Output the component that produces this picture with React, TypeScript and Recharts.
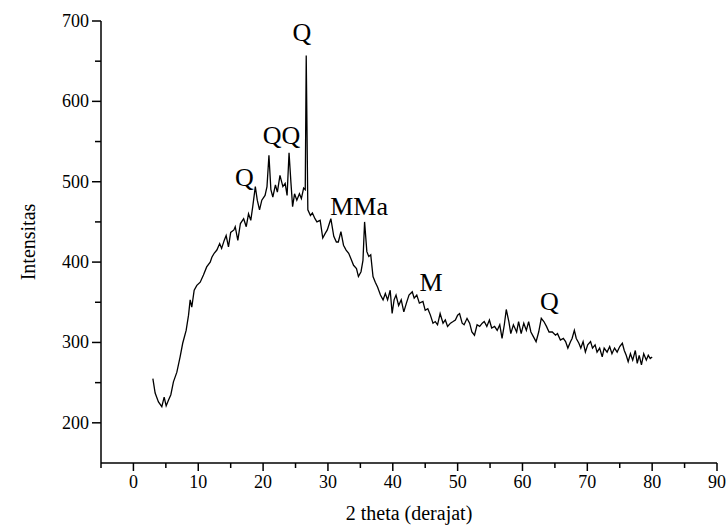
import React from "react";
import { LineChart, Line, XAxis, YAxis, ReferenceDot, Label } from "recharts";

// XRD pattern
const twoTheta = [
  3.0, 3.35, 3.86, 4.38, 4.74, 5.05, 5.4, 5.77, 6.17, 6.7, 7.2, 7.6, 8.13, 8.5, 8.75, 9.0, 9.37, 9.78,
  10.3, 10.8, 11.3, 11.84, 12.1, 12.45, 12.87, 13.3, 13.6, 14.0, 14.3, 14.66, 15.0, 15.5, 15.7, 16.1,
  16.5, 17.0, 17.4, 17.75, 18.1, 18.4, 18.8, 19.1, 19.45, 19.8, 20.3, 20.6, 20.9, 21.2, 21.5, 21.9,
  22.2, 22.6, 23.05, 23.4, 23.7, 24.0, 24.3, 24.55, 24.85, 25.2, 25.6, 25.9, 26.25, 26.5, 26.65, 26.9,
  27.3, 27.6, 28.0, 28.3, 28.8, 29.2, 29.6, 29.9, 30.45, 30.9, 31.3, 31.6, 32.0, 32.4, 32.8, 33.2,
  33.5, 33.95, 34.4, 34.7, 35.1, 35.4, 35.65, 36.0, 36.3, 36.6, 36.95, 37.3, 37.65, 38.1, 38.5, 38.85,
  39.2, 39.6, 39.9, 40.2, 40.5, 40.9, 41.3, 41.7, 42.1, 42.5, 43.0, 43.3, 43.7, 44.1, 44.65, 45.0,
  45.4, 45.8, 46.2, 46.55, 46.9, 47.3, 47.75, 48.1, 48.45, 48.9, 49.3, 49.65, 50.0, 50.3, 50.7, 51.0,
  51.45, 51.85, 52.2, 52.6, 53.0, 53.4, 53.8, 54.1, 54.5, 54.9, 55.25, 55.7, 56.1, 56.5, 56.85, 57.2,
  57.5, 57.9, 58.2, 58.6, 59.1, 59.4, 59.8, 60.2, 60.6, 60.95, 61.3, 61.7, 62.1, 62.5, 62.9, 63.3,
  63.7, 64.1, 64.6, 65.1, 65.4, 65.85, 66.3, 66.65, 67.0, 67.4, 67.65, 68.0, 68.3, 68.7, 69.0, 69.35,
  69.7, 70.06, 70.5, 70.8, 71.2, 71.5, 71.9, 72.3, 72.6, 73.05, 73.45, 73.8, 74.2, 74.6, 75.0, 75.4,
  75.7, 76.0, 76.3, 76.65, 77.0, 77.4, 77.7, 78.0, 78.35, 78.7, 79.1, 79.4, 79.7, 80.0,
];

const intensity = [
  255, 237, 226, 220, 232, 221, 228, 235, 251, 263, 282, 299, 315, 334, 353, 344, 365, 371,
  375, 384, 394, 400, 406, 411, 415, 423, 417, 427, 433, 419, 437, 440, 444, 427,
  448, 454, 444, 460, 452, 469, 494, 477, 465, 477, 483, 494, 533, 490, 481, 496,
  487, 508, 494, 498, 483, 536, 498, 469, 485, 477, 485, 479, 492, 490, 657, 465,
  458, 461, 454, 450, 452, 430, 436, 440, 454, 432, 425, 425, 438, 421, 415, 411,
  405, 396, 392, 382, 388, 402, 450, 413, 407, 409, 382, 375, 369, 359, 353, 361,
  353, 365, 336, 353, 359, 346, 353, 338, 349, 359, 363, 355, 359, 349, 351, 340,
  342, 334, 324, 326, 322, 336, 324, 328, 320, 324, 326, 328, 334, 336, 324, 322,
  330, 324, 313, 309, 322, 320, 324, 326, 320, 328, 318, 320, 315, 322, 305, 322,
  341, 326, 311, 322, 313, 326, 311, 324, 315, 326, 313, 307, 301, 313, 330, 326,
  320, 313, 313, 309, 311, 303, 305, 301, 293, 301, 305, 315, 305, 299, 293, 301,
  288, 297, 301, 293, 297, 288, 293, 282, 293, 288, 295, 286, 293, 288, 295, 299,
  290, 284, 276, 286, 278, 290, 274, 284, 272, 286, 278, 284, 280, 282,
];

const xTicks = [-5, 0, 5, 10, 15, 20, 25, 30, 35, 40, 45, 50, 55, 60, 65, 70, 75, 80, 85, 90];
const yTicks = [200, 250, 300, 350, 400, 450, 500, 550, 600, 650, 700];

// phase labels
const peakNames = ["Q", "QQ", "Q", "MMa", "M", "Q"];
const peakX = [26.0, 22.85, 17.1, 34.8, 45.9, 64.15];
const peakY = [686, 558, 506, 470, 375, 352];

const font = "'Liberation Serif', 'Times New Roman', serif";

const data = twoTheta.map((t, i) => ({ t, v: intensity[i] }));

function XTick({ x, y, payload }: any) {
  const major = payload.value % 10 === 0;
  return (
    <g>
      <line x1={x} y1={y} x2={x} y2={y + (major ? 8 : 5)} stroke="#000" strokeWidth={1.5} />
      {major && (
        <text x={x} y={y + 25} textAnchor="middle" fontSize={18} fontFamily={font} fill="#000">
          {payload.value}
        </text>
      )}
    </g>
  );
}

function YTick({ x, y, payload }: any) {
  const major = payload.value % 100 === 0;
  return (
    <g>
      <line x1={x - (major ? 9 : 6)} y1={y} x2={x} y2={y} stroke="#000" strokeWidth={1.5} />
      {major && (
        <text x={x - 12} y={y + 6} textAnchor="end" fontSize={18} fontFamily={font} fill="#000">
          {payload.value}
        </text>
      )}
    </g>
  );
}

export default function App() {
  return (
    <div style={{ position: "absolute", left: 0, top: 0, background: "#fff" }}>
      <LineChart width={728} height={526} data={data} margin={{ top: 21, right: 11, left: 0, bottom: 0 }}>
        <XAxis
          dataKey="t"
          type="number"
          domain={[-5, 90]}
          ticks={xTicks}
          interval={0}
          height={63}
          tickSize={0}
          tickMargin={0}
          tickLine={false}
          axisLine={{ stroke: "#000", strokeWidth: 1.5 }}
          tick={<XTick />}
        >
          <Label
            content={({ viewBox }: any) => (
              <text
                x={viewBox.x + viewBox.width / 2}
                y={viewBox.y + 57}
                textAnchor="middle"
                fontSize={20}
                fontFamily={font}
                fill="#000"
              >
                2 theta (derajat)
              </text>
            )}
          />
        </XAxis>
        <YAxis
          type="number"
          domain={[150, 700]}
          ticks={yTicks}
          interval={0}
          width={101}
          tickSize={0}
          tickMargin={0}
          tickLine={false}
          axisLine={{ stroke: "#000", strokeWidth: 1.5 }}
          tick={<YTick />}
        >
          <Label
            content={({ viewBox }: any) => {
              const cx = viewBox.x + 28;
              const cy = viewBox.y + viewBox.height / 2;
              return (
                <text
                  x={cx}
                  y={cy}
                  transform={`rotate(-90 ${cx} ${cy})`}
                  textAnchor="middle"
                  dominantBaseline="central"
                  fontSize={20}
                  fontFamily={font}
                  fill="#000"
                >
                  Intensitas
                </text>
              );
            }}
          />
        </YAxis>
        <Line
          dataKey="v"
          type="linear"
          stroke="#000"
          strokeWidth={1.3}
          dot={false}
          isAnimationActive={false}
        />
        {peakNames.map((name, i) => (
          <ReferenceDot
            key={i}
            x={peakX[i]}
            y={peakY[i]}
            r={0}
            fill="none"
            stroke="none"
            label={{ value: name, position: "center", fontSize: 26, fontFamily: font, fill: "#000" }}
          />
        ))}
      </LineChart>
    </div>
  );
}
